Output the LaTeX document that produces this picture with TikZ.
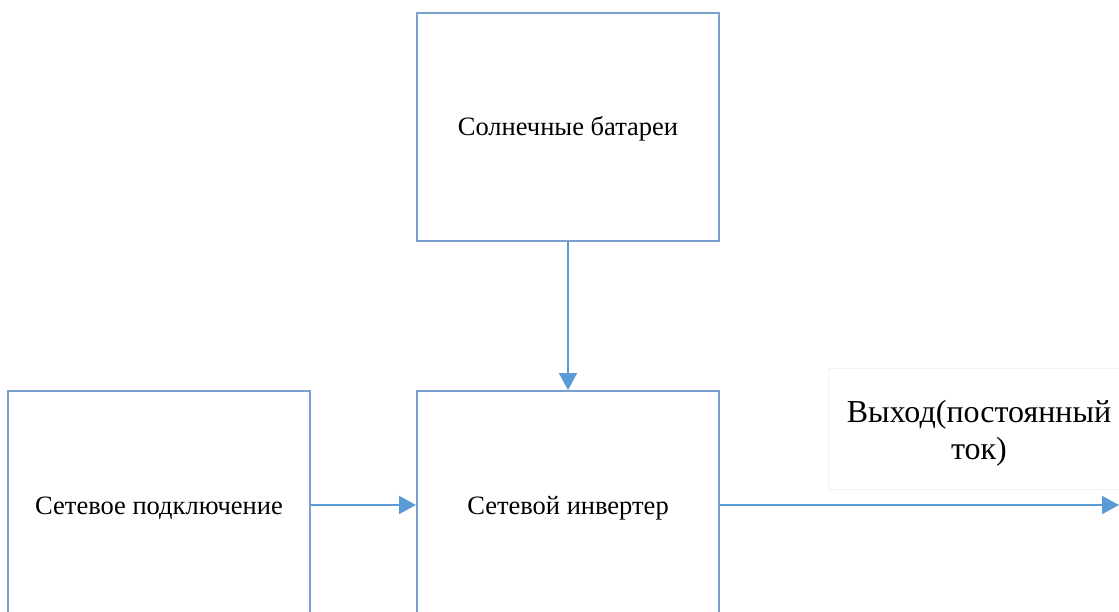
\documentclass[tikz,border=0pt]{standalone}
\usepackage{fontspec}
\setmainfont{Liberation Serif}
\usetikzlibrary{arrows.meta}
\definecolor{boxblue}{HTML}{7BA0CD}
\definecolor{arrowblue}{HTML}{5B9BD5}
\definecolor{faint}{HTML}{EEF3F8}
\tikzset{
  block/.style={draw=boxblue, line width=2pt, minimum width=302pt, minimum height=228pt, inner sep=0pt, text height=22pt, text depth=4pt, font=\fontsize{26.5}{30}\selectfont, text=black},
  flow/.style={draw=arrowblue, line width=2pt, -{Triangle[length=17pt,width=18pt]}},
  outlabel/.style={draw=faint, line width=1pt, minimum width=300pt, minimum height=121pt, inner sep=0pt, align=center, font=\fontsize{32}{37}\selectfont}
}
\begin{document}
\begin{tikzpicture}[x=1pt,y=-1pt]
\useasboundingbox (0,0) rectangle (1119,612);
\clip (0,0) rectangle (1119,612);
\fill[white] (0,0) rectangle (1119,612);
\node[block] (solar) at (568,127) {Солнечные батареи};
\node[block] (inv) at (568,505) {Сетевой инвертер};
\node[block] (grid) at (159,505) {Сетевое подключение};
\node[outlabel] (out) at (978,428.5) {};
\node[font=\fontsize{32}{37}\selectfont, align=center] (outtext) at (979,433) {Выход(постоянный\\ток)};
\coordinate (end) at (1119,505);
\draw[flow] (solar.south) -- (inv.north);
\draw[flow] (grid.east) -- (inv.west);
\draw[flow] (inv.east) -- (end);
\end{tikzpicture}
\end{document}
